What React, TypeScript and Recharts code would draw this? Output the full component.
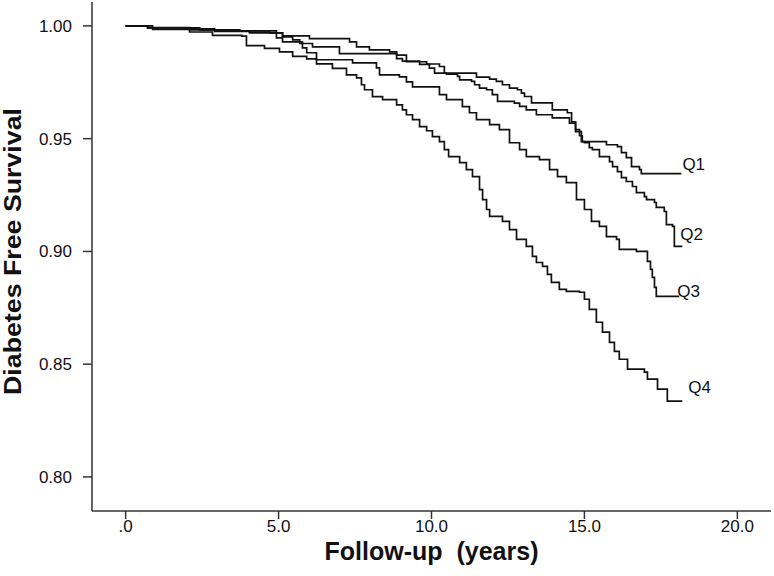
import React from 'react';
import { LineChart, Line, XAxis, YAxis } from 'recharts';

// Kaplan-Meier step data: [follow-up years, diabetes free survival]
const q1: [number, number][] = [
  [0, 1], [0.72, 0.9993], [2.09, 0.9987], [2.91, 0.9978], [4.05, 0.9973], [4.71, 0.9969],
  [5.13, 0.9956], [6.01, 0.9944], [7.32, 0.9929], [7.55, 0.9907], [7.97, 0.9894], [8.63, 0.9885],
  [8.86, 0.987], [9.18, 0.9841], [9.84, 0.9831], [10.26, 0.982], [10.42, 0.9791], [11.47, 0.9773],
  [11.9, 0.9764], [12.12, 0.9754], [12.32, 0.9739], [12.55, 0.9724], [12.81, 0.9717], [12.94, 0.9702],
  [13.04, 0.9687], [13.27, 0.9659], [13.95, 0.9628], [14.44, 0.9615], [14.58, 0.9575], [14.71, 0.954],
  [14.84, 0.9513], [14.93, 0.9487], [15.72, 0.9473], [16.08, 0.9465], [16.21, 0.9438], [16.37, 0.9416],
  [16.54, 0.9376], [16.8, 0.9363], [16.86, 0.9345], [18.17, 0.9345],
];

const q2: [number, number][] = [
  [0, 1], [0.72, 0.9991], [2.09, 0.9982], [2.91, 0.9976], [4.05, 0.9969], [5.13, 0.9951],
  [5.46, 0.9938], [5.69, 0.9922], [6.11, 0.9907], [6.99, 0.9877], [8.86, 0.9855], [9.05, 0.9844],
  [9.61, 0.9829], [9.93, 0.9813], [10.1, 0.9791], [10.49, 0.9786], [10.85, 0.9776], [10.92, 0.9761],
  [11.31, 0.9754], [11.41, 0.9739], [11.57, 0.9724], [11.8, 0.9717], [11.99, 0.9695], [12.16, 0.9665],
  [12.71, 0.9658], [12.88, 0.9643], [13.1, 0.9628], [13.43, 0.9606], [13.95, 0.9592], [14.51, 0.9569],
  [14.71, 0.9531], [14.9, 0.9487], [15.0, 0.9482], [15.16, 0.946], [15.26, 0.9451], [15.49, 0.942],
  [15.82, 0.9398], [15.92, 0.9376], [16.08, 0.9354], [16.21, 0.9327], [16.37, 0.931], [16.57, 0.9288],
  [16.7, 0.9261], [16.96, 0.9243], [17.03, 0.923], [17.29, 0.9217], [17.35, 0.9195], [17.61, 0.9177],
  [17.68, 0.9119], [17.88, 0.9111], [17.94, 0.9022], [18.2, 0.9022],
];

const q3: [number, number][] = [
  [0, 1], [0.72, 0.9991], [2.42, 0.9982], [3.73, 0.9978], [4.93, 0.9947], [5.13, 0.9929],
  [5.78, 0.9903], [5.92, 0.9881], [6.24, 0.985], [7.42, 0.9836], [8.2, 0.9814], [8.3, 0.9783],
  [8.95, 0.9774], [9.18, 0.9752], [9.38, 0.973], [10.26, 0.9695], [10.49, 0.9673], [11.01, 0.9642],
  [11.24, 0.9615], [11.47, 0.9584], [11.9, 0.9562], [12.22, 0.954], [12.55, 0.9482], [12.88, 0.9451],
  [13.1, 0.942], [13.53, 0.9407], [13.86, 0.9363], [14.12, 0.9332], [14.41, 0.9305], [14.74, 0.923],
  [15.0, 0.9186], [15.23, 0.9133], [15.49, 0.9111], [15.72, 0.9066], [16.05, 0.9053], [16.14, 0.9009],
  [16.7, 0.9], [17.06, 0.8956], [17.16, 0.892], [17.22, 0.8885], [17.29, 0.8841], [17.35, 0.8801],
  [18.1, 0.8801],
];

const q4: [number, number][] = [
  [0, 1], [0.88, 0.9985], [2.09, 0.9973], [2.84, 0.9958], [3.8, 0.9955], [3.95, 0.9913],
  [4.54, 0.99], [5.03, 0.9885], [5.46, 0.9865], [5.92, 0.9854], [6.24, 0.9832], [6.76, 0.9812],
  [7.22, 0.9783], [7.55, 0.977], [7.71, 0.9739], [7.81, 0.9717], [8.07, 0.9686], [8.4, 0.9673],
  [8.86, 0.965], [9.05, 0.9628], [9.18, 0.9606], [9.38, 0.9584], [9.61, 0.9553], [9.84, 0.9535],
  [10.03, 0.9509], [10.26, 0.9487], [10.42, 0.9451], [10.56, 0.942], [10.92, 0.9394], [11.14, 0.9363],
  [11.34, 0.9332], [11.57, 0.9274], [11.67, 0.923], [11.8, 0.9186], [11.9, 0.9155], [12.32, 0.9133],
  [12.55, 0.9097], [12.78, 0.9053], [13.1, 0.9022], [13.3, 0.8978], [13.43, 0.8951], [13.63, 0.8934],
  [13.79, 0.8898], [13.92, 0.8863], [14.18, 0.8832], [14.41, 0.8823], [14.84, 0.8819], [15.0, 0.8788],
  [15.16, 0.8743], [15.39, 0.8686], [15.59, 0.8642], [15.82, 0.8597], [15.98, 0.8557], [16.14, 0.8522],
  [16.41, 0.8478], [16.96, 0.8465], [17.06, 0.8434], [17.39, 0.8389], [17.71, 0.8336], [18.2, 0.8336],
];

const seriesNames = ['Q1', 'Q2', 'Q3', 'Q4'];
const seriesData = [q1, q2, q3, q4];
const xTicks = [0, 5, 10, 15, 20];
const yTicks = [0.8, 0.85, 0.9, 0.95, 1.0];
const xTitle = 'Follow-up  (years)';
const yTitle = 'Diabetes Free Survival';

// label offsets (styling) relative to the curve's end point
const labelOffsets = [
  { dx: 1, dy: -9 },
  { dx: -2, dy: -12 },
  { dx: -2, dy: -5 },
  { dx: 6, dy: -14 },
];

const FONT = '"Liberation Sans", Arial, Helvetica, sans-serif';
const X_DOMAIN: [number, number] = [-1.1, 21.1];
const Y_DOMAIN: [number, number] = [0.7849, 1.0106];

const rows = (arr: [number, number][]) => arr.map(([t, s]) => ({ t, s }));

const makeEndLabel = (name: string, len: number, off: { dx: number; dy: number }) => (props: any) => {
  const { x, y, index } = props;
  if (index !== len - 1) return null;
  return (
    <text
      key={name}
      x={x + off.dx}
      y={y + off.dy}
      fontFamily={FONT}
      fontSize={17}
      fill="#111"
      dominantBaseline="central"
      textAnchor="start"
    >
      {name}
    </text>
  );
};

export default function App() {
  return (
    <div style={{ position: 'absolute', left: 0, top: 0, width: 774, height: 576, background: '#fff' }}>
      <LineChart width={774} height={576} margin={{ top: 2, right: 3, bottom: 0, left: 0 }}>
        <XAxis
          dataKey="t"
          type="number"
          domain={X_DOMAIN}
          ticks={xTicks}
          allowDataOverflow
          height={65}
          tickSize={8}
          tickMargin={1}
          tickFormatter={(v: number) => (v === 0 ? '.0' : v.toFixed(1))}
          tick={{ fill: '#111', fontSize: 17, fontFamily: FONT }}
          axisLine={{ stroke: '#333', strokeWidth: 1.5 }}
          tickLine={{ stroke: '#333', strokeWidth: 1.5 }}
          label={(props: any) => {
            const vb = props.viewBox || { x: 92, y: 511, width: 679, height: 65 };
            return (
              <text
                x={vb.x + vb.width / 2}
                y={vb.y + 40}
                textAnchor="middle"
                dominantBaseline="central"
                fontFamily={FONT}
                fontWeight="bold"
                fontSize={25}
                fill="#111"
                style={{ whiteSpace: 'pre' }}
              >
                {xTitle}
              </text>
            );
          }}
        />
        <XAxis
          xAxisId="top"
          orientation="top"
          dataKey="t"
          type="number"
          domain={X_DOMAIN}
          allowDataOverflow
          height={0}
          tick={false}
          tickLine={false}
          axisLine={{ stroke: '#333', strokeWidth: 1.5 }}
        />
        <YAxis
          type="number"
          domain={Y_DOMAIN}
          ticks={yTicks}
          allowDataOverflow
          width={92}
          tickSize={9}
          tickMargin={11}
          tickFormatter={(v: number) => v.toFixed(2)}
          tick={{ fill: '#111', fontSize: 17, fontFamily: FONT }}
          axisLine={{ stroke: '#333', strokeWidth: 1.5 }}
          tickLine={{ stroke: '#333', strokeWidth: 1.5 }}
          label={(props: any) => {
            const vb = props.viewBox || { x: 0, y: 2, width: 92, height: 509 };
            const cx = vb.x + 13;
            const cy = vb.y + vb.height / 2 - 5;
            return (
              <text
                x={cx}
                y={cy}
                transform={`rotate(-90, ${cx}, ${cy})`}
                textAnchor="middle"
                dominantBaseline="central"
                fontFamily={FONT}
                fontWeight="bold"
                fontSize={23}
                fill="#111"
                textLength={287}
                lengthAdjust="spacingAndGlyphs"
              >
                {yTitle}
              </text>
            );
          }}
        />
        <YAxis
          yAxisId="right"
          orientation="right"
          type="number"
          domain={Y_DOMAIN}
          allowDataOverflow
          width={0}
          tick={false}
          tickLine={false}
          axisLine={{ stroke: '#333', strokeWidth: 1.5 }}
        />
        {seriesData.map((d, i) => (
          <Line
            key={seriesNames[i]}
            data={rows(d)}
            dataKey="s"
            name={seriesNames[i]}
            type="stepAfter"
            stroke="#111"
            strokeWidth={1.7}
            dot={false}
            activeDot={false}
            isAnimationActive={false}
            label={makeEndLabel(seriesNames[i], d.length, labelOffsets[i])}
          />
        ))}
      </LineChart>
    </div>
  );
}
